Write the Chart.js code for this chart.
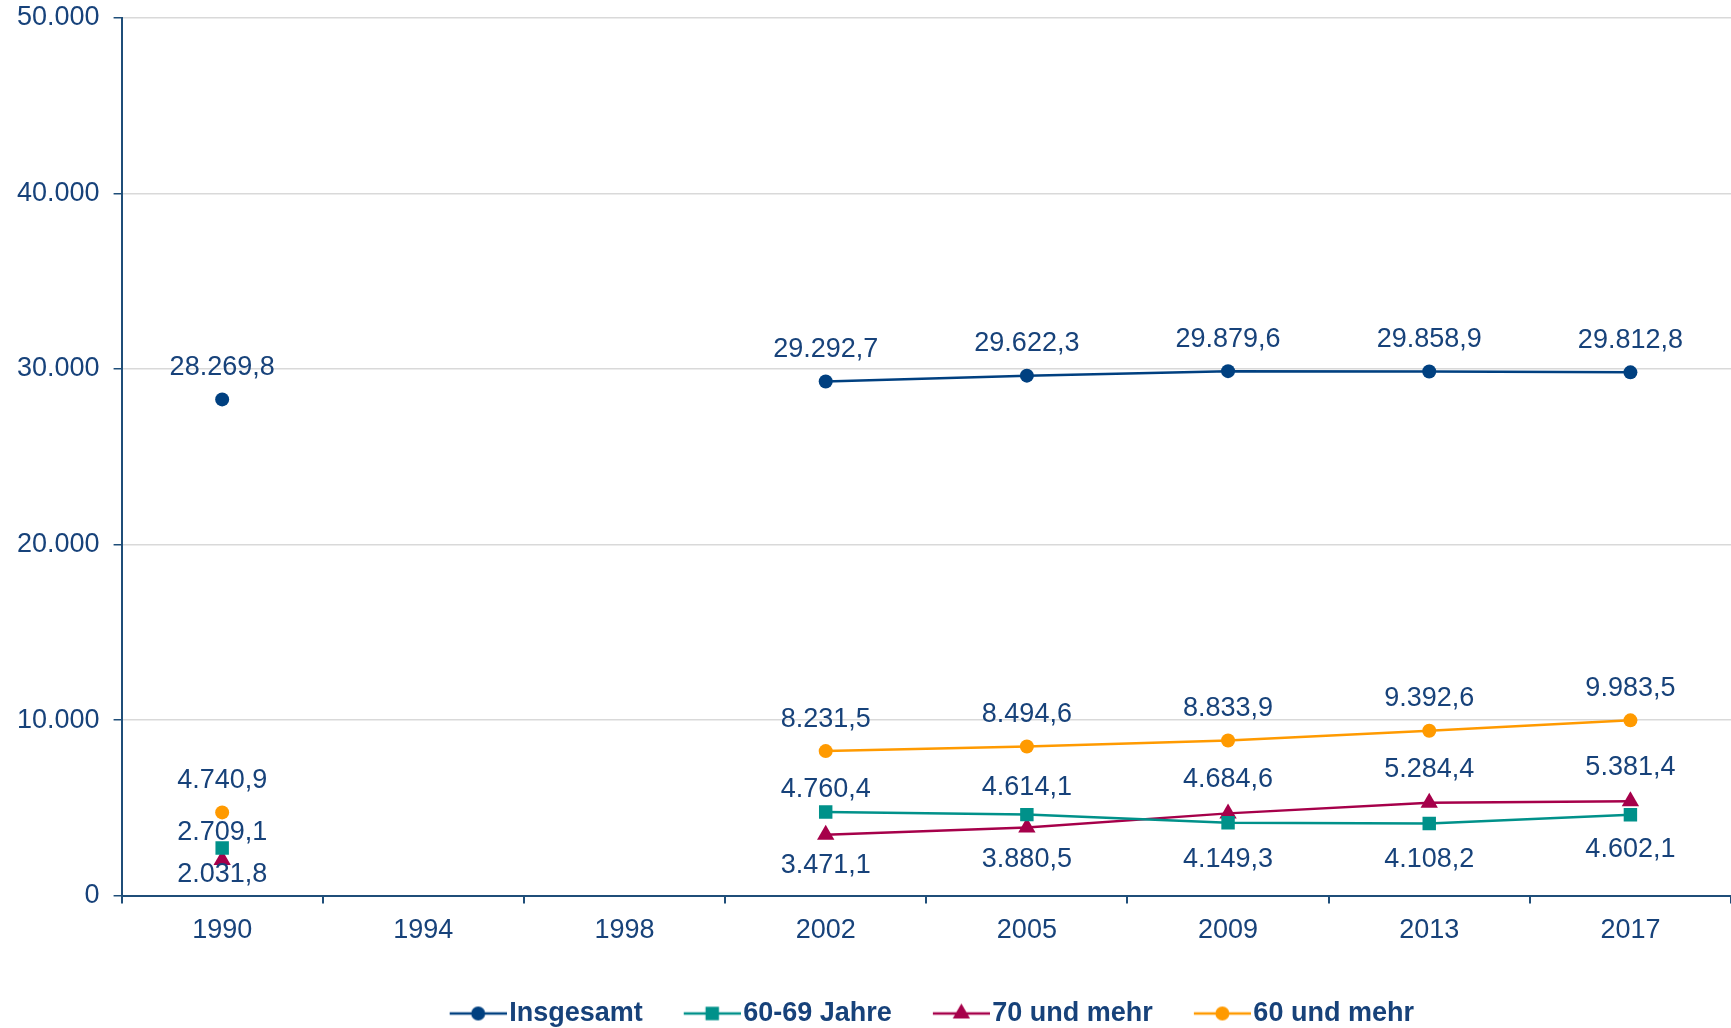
<!DOCTYPE html>
<html lang="de">
<head>
<meta charset="utf-8">
<title>Insgesamt / 60-69 Jahre / 70 und mehr / 60 und mehr</title>
<script src="https://cdn.jsdelivr.net/npm/chart.js@4.4.0/dist/chart.umd.min.js"></script>
<style>
    html, body { margin: 0; padding: 0; background: #fff; }
</style>
</head>
<body>
<canvas id="lineChart" width="1731" height="1028"></canvas>
<script>
// DATA
const years = ["1990", "1994", "1998", "2002", "2005", "2009", "2013", "2017"];
const insgesamt = [28269.8, null, null, 29292.7, 29622.3, 29879.6, 29858.9, 29812.8];
const jahre6069 = [2709.1, null, null, 4760.4, 4614.1, 4149.3, 4108.2, 4602.1];
const mehr70 = [2031.8, null, null, 3471.1, 3880.5, 4684.6, 5284.4, 5381.4];
const mehr60 = [4740.9, null, null, 8231.5, 8494.6, 8833.9, 9392.6, 9983.5];
const yTicks = [0, 10000, 20000, 30000, 40000, 50000];

const textColor = "#17427A";
const axisColor = "#1F4E79";

// German number format: 29.292,7 / 50.000
function fmt(v, dec){
    let s = v.toFixed(dec);
    let parts = s.split(".");
    let intPart = parts[0].replace(/\B(?=(\d{3})+(?!\d))/g, ".");
    return parts.length > 1 ? intPart + "," + parts[1] : intPart;
}

// legend icon: line with marker in the middle (line sits in the right part of the canvas)
function legendIcon(color, style, r){
    const c = document.createElement("canvas");
    c.width = 79;
    c.height = 24;
    const g = c.getContext("2d");
    g.strokeStyle = color;
    g.lineWidth = 2.5;
    g.beginPath();
    g.moveTo(79 - 57, 12);
    g.lineTo(79, 12);
    g.stroke();
    g.fillStyle = color;
    Chart.helpers.drawPoint(g, {pointStyle: style, radius: r, borderWidth: 0, rotation: 0}, 79 - 28.5, 12);
    return c;
}

// value labels above / below the points
const valueLabels = {
    id: "valueLabels",
    afterDatasetsDraw(chart){
        const ctx = chart.ctx;
        ctx.save();
        ctx.font = '27px "Liberation Sans", Arial, sans-serif';
        ctx.fillStyle = textColor;
        ctx.textAlign = "center";
        ctx.textBaseline = "middle";
        chart.data.datasets.forEach((ds, i) => {
            const meta = chart.getDatasetMeta(i);
            meta.data.forEach((pt, j) => {
                if(ds.data[j] == null) return;
                ctx.fillText(fmt(ds.data[j], 1), pt.x, pt.y + ds.labelOffset[j]);
            });
        });
        ctx.restore();
    }
};

Chart.defaults.font.family = '"Liberation Sans", Arial, sans-serif';
Chart.defaults.color = textColor;

const datasets = [
    {
        label: "Insgesamt",
        data: insgesamt,
        borderColor: "#004080",
        backgroundColor: "#004080",
        pointStyle: "circle",
        pointRadius: 7,
        labelOffset: [-32, 0, 0, -32, -32, -32, -32, -32]
    },
    {
        label: "60-69 Jahre",
        data: jahre6069,
        borderColor: "#00918A",
        backgroundColor: "#00918A",
        pointStyle: "rect",
        pointRadius: 9.5,
        labelOffset: [-16, 0, 0, -22, -27, 37, 36, 35]
    },
    {
        label: "70 und mehr",
        data: mehr70,
        borderColor: "#A6004A",
        backgroundColor: "#A6004A",
        pointStyle: "triangle",
        pointRadius: 10,
        labelOffset: [15, 0, 0, 31, 32, -34, -33, -34]
    },
    {
        label: "60 und mehr",
        data: mehr60,
        borderColor: "#FF9A00",
        backgroundColor: "#FF9A00",
        pointStyle: "circle",
        pointRadius: 7,
        labelOffset: [-32, 0, 0, -32, -32, -32, -32, -32]
    }
];

datasets.forEach(ds => {
    ds.borderWidth = 2.5;
    ds.pointBorderWidth = 0;
    ds.pointBackgroundColor = ds.borderColor;
    ds.tension = 0;
    ds.spanGaps = false;
});

const icons = datasets.map(ds => legendIcon(ds.borderColor, ds.pointStyle, ds.pointRadius));

new Chart(document.getElementById("lineChart"), {
    type: "line",
    data: {
        labels: years,
        datasets: datasets
    },
    plugins: [valueLabels],
    options: {
        responsive: false,
        animation: false,
        layout: {
            autoPadding: false,
            padding: {top: 18, left: 3, right: -13, bottom: -9}
        },
        plugins: {
            tooltip: {enabled: false},
            legend: {
                position: "bottom",
                fullSize: false,
                labels: {
                    usePointStyle: true,
                    pointStyleWidth: 57,
                    padding: 30,
                    color: textColor,
                    font: {size: 27, weight: "bold"},
                    generateLabels(chart){
                        return chart.data.datasets.map((ds, i) => ({
                            text: ds.label,
                            pointStyle: icons[i],
                            datasetIndex: i,
                            fillStyle: ds.borderColor,
                            strokeStyle: ds.borderColor,
                            lineWidth: 0,
                            hidden: false,
                            fontColor: textColor
                        }));
                    }
                }
            }
        },
        scales: {
            x: {
                type: "category",
                offset: true,
                grid: {
                    display: true,
                    drawOnChartArea: false,
                    offset: true,
                    tickColor: axisColor,
                    tickLength: 8,
                    lineWidth: 2
                },
                border: {color: axisColor, width: 2},
                ticks: {
                    color: textColor,
                    font: {size: 27},
                    padding: 11,
                    maxRotation: 0
                },
                afterFit(scale){
                    scale.height += 12;
                    scale.paddingLeft = 0;
                    scale.paddingRight = -14;
                }
            },
            y: {
                min: 0,
                max: 50000,
                afterBuildTicks(scale){
                    scale.ticks = yTicks.map(v => ({value: v}));
                },
                grid: {
                    color: "#D9D9D9",
                    lineWidth: 1.5,
                    tickColor: axisColor,
                    tickLength: 8
                },
                border: {color: axisColor, width: 2},
                ticks: {
                    color: textColor,
                    font: {size: 27},
                    padding: 14,
                    callback: v => fmt(v, 0)
                },
                afterFit(scale){
                    scale.paddingTop = 0;
                    scale.paddingBottom = 0;
                }
            }
        }
    }
});
</script>
</body>
</html>
